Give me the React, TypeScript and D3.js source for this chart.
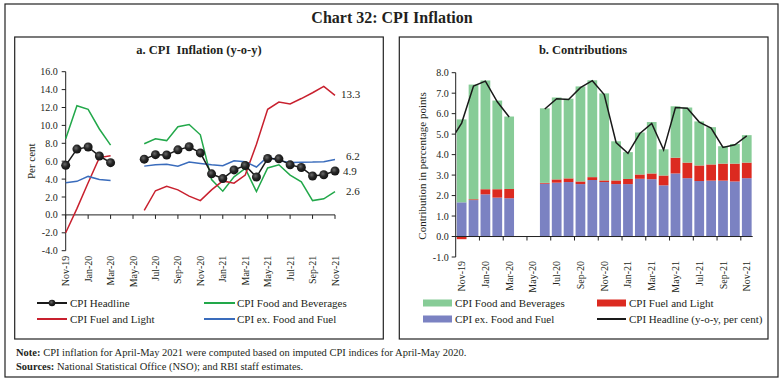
import React from "react";
import * as d3 from "d3";

const months = ["Nov-19","Dec-19","Jan-20","Feb-20","Mar-20","Apr-20","May-20","Jun-20","Jul-20","Aug-20","Sep-20","Oct-20","Nov-20","Dec-20","Jan-21","Feb-21","Mar-21","Apr-21","May-21","Jun-21","Jul-21","Aug-21","Sep-21","Oct-21","Nov-21"];
const tickMonths = ["Nov-19","Jan-20","Mar-20","May-20","Jul-20","Sep-20","Nov-20","Jan-21","Mar-21","May-21","Jul-21","Sep-21","Nov-21"];

// Panel a: y-o-y inflation (per cent)
const headline = [5.54,7.35,7.59,6.58,5.84,null,null,6.23,6.73,6.69,7.27,7.61,6.93,4.59,4.06,5.03,5.52,4.23,6.30,6.26,5.59,5.30,4.35,4.48,4.91];
const foodBev = [8.5,12.2,11.8,9.6,7.8,null,null,7.95,8.5,8.3,9.85,10.1,8.95,3.95,2.65,4.25,5.2,2.6,5.25,5.6,4.45,3.7,1.6,1.8,2.6];
const fuelLight = [-2.0,0.7,3.6,6.4,6.6,null,null,0.5,2.7,3.2,2.8,2.1,1.6,2.8,3.8,3.55,4.45,7.9,11.8,12.6,12.4,13.0,13.65,14.35,13.35];
const exFoodFuel = [3.6,3.75,4.3,3.95,3.85,null,null,5.45,5.6,5.65,5.45,5.9,5.75,5.6,5.5,6.05,5.95,5.35,6.5,6.05,5.85,5.88,5.9,5.95,6.2];
const endLabels = ["13.3","6.2","4.9","2.6"];
const yTicksA = [-4,-2,0,2,4,6,8,10,12,14,16];

// Panel b: contributions (percentage points)
const ctrExFoodFuel = [1.67,1.78,2.06,1.9,1.87,null,null,2.58,2.63,2.66,2.56,2.76,2.66,2.56,2.56,2.82,2.8,2.5,3.08,2.85,2.71,2.73,2.73,2.69,2.85];
const ctrFuel = [-0.13,0.04,0.25,0.41,0.45,null,null,0.04,0.16,0.18,0.13,0.14,0.08,0.18,0.25,0.21,0.28,0.48,0.77,0.76,0.76,0.79,0.83,0.87,0.76];
const ctrFood = [4.05,5.6,5.31,4.33,3.54,null,null,3.64,4.0,3.89,4.64,4.73,4.25,1.91,1.31,2.05,2.51,1.28,2.51,2.69,2.15,1.82,0.85,0.96,1.34];
const headlineOct19 = 4.62;
const yTicksB = [-1,0,1,2,3,4,5,6,7,8];

const FONT = "'Liberation Serif', 'Times New Roman', serif";
const TXT = "#231f20";
const C = {
  black: "#1a1a1a",
  green: "#22a84a",
  red: "#c8202e",
  blue: "#3a6cbc",
  barGreen: "#87cc97",
  barRed: "#dc2a20",
  barBlue: "#7b82c2",
};

function PanelA() {
  const x = d3.scaleLinear().domain([0, months.length - 1]).range([65.7, 335]);
  const y = d3.scaleLinear().domain([-4, 16]).range([250.7, 71.7]);
  const line = d3
    .line<number | null>()
    .defined((d) => d !== null)
    .x((_, i) => x(i))
    .y((d) => y(d as number));
  const series = [
    { v: foodBev, c: C.green },
    { v: fuelLight, c: C.red },
    { v: exFoodFuel, c: C.blue },
    { v: headline, c: C.black },
  ];
  const last = months.length - 1;
  const labelVals = [fuelLight[last], exFoodFuel[last], headline[last], foodBev[last]];
  const labelDx = [6, 11, 8, 11];
  const labelDy = [-1, -3, 0, 0];
  return (
    <g>
      <text x={199} y={54} textAnchor="middle" fontWeight="bold" fontSize={12.5} fill={TXT}>
        a. CPI{"\u00a0\u00a0"}Inflation (y-o-y)
      </text>
      {/* y axis */}
      <line x1={x(0)} x2={x(0)} y1={y(16)} y2={y(-4)} stroke="#222" strokeWidth={1} />
      {yTicksA.map((t) => (
        <g key={t}>
          <line x1={x(0) - 4} x2={x(0)} y1={y(t)} y2={y(t)} stroke="#222" />
          <text x={x(0) - 8} y={y(t)} dy="0.35em" textAnchor="end" fontSize={10} fill={TXT}>
            {t.toFixed(1)}
          </text>
        </g>
      ))}
      <text transform={`translate(31,${y(6)}) rotate(-90)`} textAnchor="middle" dy="0.35em" fontSize={11} fill={TXT}>
        Per cent
      </text>
      {/* x axis at zero */}
      <line x1={x(0)} x2={x(last)} y1={y(0)} y2={y(0)} stroke="#222" />
      {tickMonths.map((m) => {
        const xi = x(months.indexOf(m));
        return (
          <g key={m}>
            <line x1={xi} x2={xi} y1={y(0)} y2={y(0) + 4} stroke="#222" />
            <text transform={`translate(${xi},${y(-4) + 5}) rotate(-90)`} textAnchor="end" dy="0.35em" fontSize={10} fill={TXT}>
              {m}
            </text>
          </g>
        );
      })}
      {series.map((s, i) => (
        <path key={i} d={line(s.v) || ""} fill="none" stroke={s.c} strokeWidth={1.5} />
      ))}
      {headline.map((d, i) =>
        d === null ? null : <circle key={i} cx={x(i)} cy={y(d)} r={4.5} fill="url(#dotGrad)" />
      )}
      {endLabels.map((l, i) => (
        <text key={l} x={x(last) + labelDx[i]} y={y(labelVals[i] as number) + labelDy[i]} dy="0.35em" fontSize={11} fill={TXT}>
          {l}
        </text>
      ))}
      {/* legend */}
      <g fontSize={11} fill={TXT}>
        <line x1={37} x2={67} y1={303} y2={303} stroke={C.black} strokeWidth={2} />
        <circle cx={52} cy={303} r={3.3} fill="url(#dotGrad)" />
        <text x={70} y={303} dy="0.35em">CPI Headline</text>
        <line x1={204} x2={235} y1={303} y2={303} stroke={C.green} strokeWidth={2} />
        <text x={237} y={303} dy="0.35em">CPI Food and Beverages</text>
        <line x1={37} x2={67} y1={319} y2={319} stroke={C.red} strokeWidth={2} />
        <text x={70} y={319} dy="0.35em">CPI Fuel and Light</text>
        <line x1={204} x2={235} y1={319} y2={319} stroke={C.blue} strokeWidth={2} />
        <text x={237} y={319} dy="0.35em">CPI ex. Food and Fuel</text>
      </g>
    </g>
  );
}

function PanelB() {
  const x = d3.scaleBand<string>().domain(months).range([455.7, 752.7]).paddingInner(0.18).paddingOuter(0.09);
  const y = d3.scaleLinear().domain([-1, 8]).range([257, 72.7]);
  const step = x.step();
  const cx = (i: number) => (x(months[i]) as number) + x.bandwidth() / 2;
  const bars: { x: number; y0: number; y1: number; c: string }[] = [];
  months.forEach((m, i) => {
    const core = ctrExFoodFuel[i];
    const fuel = ctrFuel[i];
    const food = ctrFood[i];
    if (core === null || fuel === null || food === null) return;
    let pos = 0;
    let neg = 0;
    const push = (v: number, c: string) => {
      if (v >= 0) {
        bars.push({ x: x(m) as number, y0: pos, y1: pos + v, c });
        pos += v;
      } else {
        bars.push({ x: x(m) as number, y0: neg + v, y1: neg, c });
        neg += v;
      }
    };
    push(core, C.barBlue);
    push(fuel, C.barRed);
    push(food, C.barGreen);
  });
  const linePts: [number, number | null][] = [[cx(0) - step, headlineOct19], ...headline.map((d, i) => [cx(i), d] as [number, number | null])];
  const line = d3
    .line<[number, number | null]>()
    .defined((d) => d[1] !== null)
    .x((d) => d[0])
    .y((d) => y(d[1] as number));
  const x0 = 455.7;
  const x1 = 752.7;
  const oddStarts = ["Jan-20","Mar-20","May-20","Jul-20","Sep-20","Nov-20","Jan-21","Mar-21","May-21","Jul-21","Sep-21","Nov-21"];
  return (
    <g>
      <defs>
        <clipPath id="plotB">
          <rect x={x0} y={60} width={x1 - x0} height={210} />
        </clipPath>
      </defs>
      <text x={583} y={54} textAnchor="middle" fontWeight="bold" fontSize={12.5} fill={TXT}>
        b. Contributions
      </text>
      {bars.map((b, i) => (
        <rect key={i} x={b.x} width={x.bandwidth()} y={y(b.y1)} height={Math.max(0, y(b.y0) - y(b.y1))} fill={b.c} />
      ))}
      <line x1={x0} x2={x0} y1={y(8)} y2={y(-1)} stroke="#222" />
      {yTicksB.map((t) => (
        <g key={t}>
          <line x1={x0 - 4} x2={x0} y1={y(t)} y2={y(t)} stroke="#222" />
          <text x={x0 - 7} y={y(t)} dy="0.35em" textAnchor="end" fontSize={10} fill={TXT}>
            {t.toFixed(1)}
          </text>
        </g>
      ))}
      <text transform={`translate(422,${y(3.45)}) rotate(-90)`} textAnchor="middle" dy="0.35em" fontSize={11} fill={TXT}>
        Contribution in percentage points
      </text>
      <line x1={x0} x2={x1} y1={y(0)} y2={y(0)} stroke="#222" />
      {oddStarts.map((m) => {
        const xi = (x(m) as number) - (step * x.paddingInner()) / 2;
        return <line key={m} x1={xi} x2={xi} y1={y(0)} y2={y(0) + 4} stroke="#222" />;
      })}
      {tickMonths.map((m) => {
        const xi = (x(m) as number) + x.bandwidth() / 2;
        return (
          <text key={m} transform={`translate(${xi},${y(-1) + 4}) rotate(-90)`} textAnchor="end" dy="0.35em" fontSize={10} fill={TXT}>
            {m}
          </text>
        );
      })}
      <path d={line(linePts) || ""} fill="none" stroke={C.black} strokeWidth={1.5} clipPath="url(#plotB)" />
      <g fontSize={11} fill={TXT}>
        <rect x={423} y={299.5} width={29} height={7} fill={C.barGreen} />
        <text x={455} y={303} dy="0.35em">CPI Food and Beverages</text>
        <rect x={597} y={299.5} width={29} height={7} fill={C.barRed} />
        <text x={629} y={303} dy="0.35em">CPI Fuel and Light</text>
        <rect x={423} y={315.5} width={29} height={7} fill={C.barBlue} />
        <text x={455} y={319} dy="0.35em">CPI ex. Food and Fuel</text>
        <line x1={597} x2={626} y1={319} y2={319} stroke={C.black} strokeWidth={2} />
        <text x={629} y={319} dy="0.35em">CPI Headline (y-o-y, per cent)</text>
      </g>
    </g>
  );
}

export default function App() {
  return (
    <svg
      width={783}
      height={382}
      style={{ position: "absolute", left: 0, top: 0, background: "#fff", fontFamily: FONT }}
    >
      <defs>
        <radialGradient id="dotGrad" cx="40%" cy="38%" r="65%">
          <stop offset="0%" stopColor="#6a6a6a" />
          <stop offset="50%" stopColor="#262626" />
          <stop offset="100%" stopColor="#111" />
        </radialGradient>
      </defs>
      <rect x={0} y={0} width={783} height={382} fill="#fff" />
      <rect x={5} y={4} width={773} height={373} fill="none" stroke="#222" strokeWidth={1.2} />
      <text x={392} y={23} textAnchor="middle" fontWeight="bold" fontSize={16} fill={TXT}>
        Chart 32: CPI Inflation
      </text>
      <rect x={14.7} y={37} width={368.6} height={302} fill="none" stroke="#222" strokeWidth={1.2} />
      <rect x={399.3} y={37} width={368.7} height={302} fill="none" stroke="#222" strokeWidth={1.2} />
      <PanelA />
      <PanelB />
      <text x={16} y={352} dy="0.35em" fontSize={10.5} fill={TXT}>
        <tspan fontWeight="bold">Note:</tspan> CPI inflation for April-May 2021 were computed based on imputed CPI indices for April-May 2020.
      </text>
      <text x={16} y={366} dy="0.35em" fontSize={10.5} fill={TXT}>
        <tspan fontWeight="bold">Sources:</tspan> National Statistical Office (NSO); and RBI staff estimates.
      </text>
    </svg>
  );
}
